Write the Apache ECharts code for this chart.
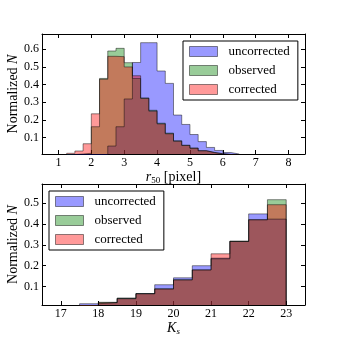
<!DOCTYPE html>
<html>
<head>
<meta charset="utf-8">
<script src="https://cdn.jsdelivr.net/npm/echarts@6/dist/echarts.min.js"></script>
<style>
html, body { margin: 0; padding: 0; background: #fff; }
#chart { width: 339px; height: 339px; }
</style>
</head>
<body>
<div id="chart"></div>
<script>
// r50 histogram: bin edges (left edges + last right edge) and normalized counts
const r50Edges = [1.25, 1.5, 1.75, 2.0, 2.25, 2.5, 2.75, 3.0, 3.25, 3.5, 3.75, 4.0, 4.25, 4.5, 4.75, 5.0, 5.25, 5.5, 5.75, 6.0, 6.25, 6.5];
const r50Uncorrected = [0, 0, 0, 0, 0, 0.053, 0.162, 0.319, 0.525, 0.637, 0.637, 0.477, 0.407, 0.228, 0.175, 0.118, 0.078, 0.045, 0.028, 0.016, 0.008];
const r50Observed = [0.005, 0.008, 0.012, 0.162, 0.435, 0.59, 0.605, 0.524, 0.435, 0.325, 0.255, 0.182, 0.126, 0.083, 0.058, 0.042, 0.027, 0.017, 0.01, 0.005, 0.003];
const r50Corrected = [0.012, 0.025, 0.066, 0.235, 0.43, 0.56, 0.558, 0.5, 0.45, 0.322, 0.25, 0.178, 0.122, 0.08, 0.056, 0.04, 0.026, 0.016, 0.009, 0.005, 0.003];
const r50Ticks = [1, 2, 3, 4, 5, 6, 7, 8];
const r50YTicks = [0.1, 0.2, 0.3, 0.4, 0.5, 0.6];

// Ks histogram
const ksEdges = [17.5, 18, 18.5, 19, 19.5, 20, 20.5, 21, 21.5, 22, 22.5, 23];
const ksUncorrected = [0.018, 0.024, 0.044, 0.067, 0.109, 0.142, 0.2, 0.236, 0.316, 0.448, 0.423];
const ksObserved = [0.008, 0.025, 0.045, 0.067, 0.09, 0.133, 0.18, 0.233, 0.318, 0.42, 0.516];
const ksCorrected = [0.008, 0.023, 0.042, 0.065, 0.088, 0.132, 0.18, 0.257, 0.316, 0.42, 0.492];
const ksTicks = [17, 18, 19, 20, 21, 22, 23];
const ksYTicks = [0.1, 0.2, 0.3, 0.4, 0.5];

const seriesNames = ['uncorrected', 'observed', 'corrected'];
const fillColors = ['rgba(0,0,255,0.4)', 'rgba(0,128,0,0.4)', 'rgba(255,0,0,0.4)'];
const edgeColor = 'rgba(0,0,0,0.45)';
const serif = '"Liberation Serif", "DejaVu Serif", serif';

// turn bins into a closed step outline
function stepPoints(edges, values) {
    const pts = [[edges[0], 0]];
    values.forEach((v, i) => pts.push([edges[i], v]));
    pts.push([edges[edges.length - 1], 0]);
    return pts;
}

function histSeries(idx, gridIdx, edges, values) {
    return {
        name: seriesNames[idx],
        type: 'line',
        step: 'end',
        xAxisIndex: gridIdx * 2,
        yAxisIndex: gridIdx * 2,
        data: stepPoints(edges, values),
        symbol: 'none',
        silent: true,
        animation: false,
        color: fillColors[idx],
        lineStyle: { color: edgeColor, width: 1 },
        areaStyle: { color: fillColors[idx], opacity: 1 }
    };
}

function xAxes(gridIdx, min, max, ticks, name) {
    const base = {
        gridIndex: gridIdx, type: 'value', min: min, max: max,
        axisLine: { show: true, onZero: false, lineStyle: { color: '#000', width: 1 } },
        axisTick: { show: true, inside: true, length: 4, customValues: ticks, lineStyle: { color: '#000' } },
        splitLine: { show: false }
    };
    return [
        Object.assign({}, base, {
            position: 'bottom',
            axisLabel: { customValues: ticks, margin: 3, color: '#000', fontSize: 12, fontFamily: serif },
            name: name, nameLocation: 'middle', nameGap: 16, nameMoveOverlap: false,
            nameTextStyle: {
                color: '#000', fontSize: 14, fontFamily: serif,
                rich: {
                    i: { fontStyle: 'italic', fontSize: 14, fontFamily: serif, color: '#000' },
                    sub: { fontSize: 9, fontFamily: serif, color: '#000', padding: [6, 0, 0, 0] },
                    subi: { fontStyle: 'italic', fontSize: 9, fontFamily: serif, color: '#000', padding: [6, 0, 0, 0] }
                }
            }
        }),
        Object.assign({}, base, { position: 'top', axisLabel: { show: false } })
    ];
}

function yAxes(gridIdx, min, max, ticks) {
    const base = {
        gridIndex: gridIdx, type: 'value', min: min, max: max,
        axisLine: { show: true, onZero: false, lineStyle: { color: '#000', width: 1 } },
        axisTick: { show: true, inside: true, length: 4, customValues: ticks, lineStyle: { color: '#000' } },
        splitLine: { show: false }
    };
    return [
        Object.assign({}, base, {
            position: 'left',
            axisLabel: { customValues: ticks, margin: 3, color: '#000', fontSize: 12, fontFamily: serif },
            name: 'Normalized {i|N}', nameLocation: 'middle', nameGap: 22, nameMoveOverlap: false,
            nameTextStyle: {
                color: '#000', fontSize: 14, fontFamily: serif,
                rich: { i: { fontStyle: 'italic', fontSize: 14, fontFamily: serif, color: '#000' } }
            }
        }),
        Object.assign({}, base, { position: 'right', axisLabel: { show: false } })
    ];
}

function legendAt(left, top) {
    return {
        orient: 'vertical', left: left, top: top,
        itemWidth: 28, itemHeight: 10, itemGap: 6,
        padding: [4, 8, 4, 6],
        borderColor: '#000', borderWidth: 1,
        backgroundColor: '#fff',
        selectedMode: false,
        textStyle: { color: '#000', fontSize: 13, fontFamily: serif, padding: [0, 0, 0, 6] },
        data: seriesNames.map((n, i) => ({
            name: n, icon: 'rect',
            itemStyle: { color: fillColors[i], borderColor: edgeColor, borderWidth: 1 }
        }))
    };
}

const chart = echarts.init(document.getElementById('chart'), null, { renderer: 'canvas' });

const option = {
    backgroundColor: '#fff',
    animation: false,
    grid: [
        { left: 42, top: 34, width: 263, height: 120, outerBoundsMode: 'none' },
        { left: 42, top: 184, width: 263, height: 121, outerBoundsMode: 'none' }
    ],
    xAxis: [].concat(
        xAxes(0, 0.5, 8.5, r50Ticks, '{i|r}{sub|50} [pixel]'),
        xAxes(1, 16.5, 23.5, ksTicks, '{i|K}{subi|s}')
    ),
    yAxis: [].concat(
        yAxes(0, 0.008, 0.686, r50YTicks),
        yAxes(1, 0.012, 0.591, ksYTicks)
    ),
    legend: [legendAt(183, 41), legendAt(49, 191)],
    series: [
        histSeries(0, 0, r50Edges, r50Uncorrected),
        histSeries(1, 0, r50Edges, r50Observed),
        histSeries(2, 0, r50Edges, r50Corrected),
        histSeries(0, 1, ksEdges, ksUncorrected),
        histSeries(1, 1, ksEdges, ksObserved),
        histSeries(2, 1, ksEdges, ksCorrected)
    ]
};

chart.setOption(option);
</script>
</body>
</html>
